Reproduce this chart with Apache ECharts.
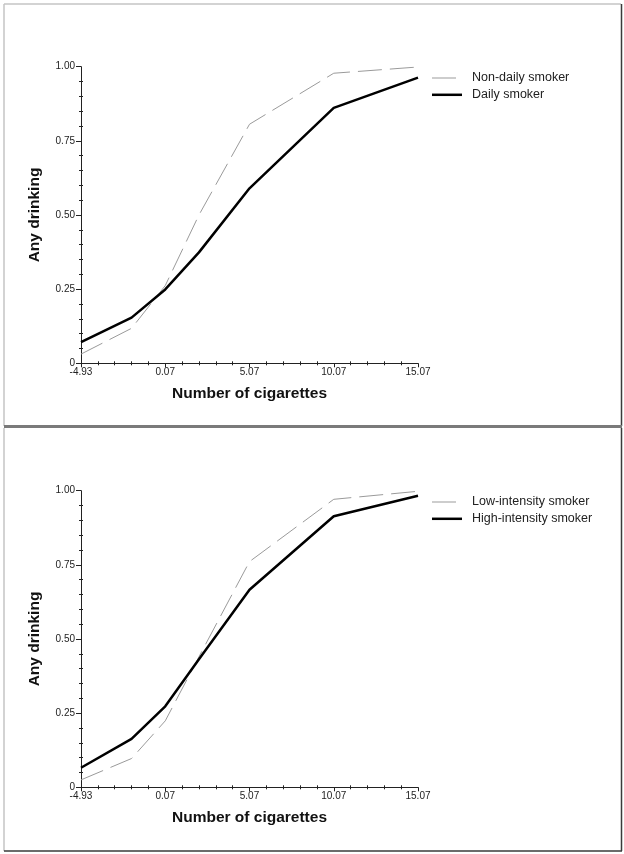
<!DOCTYPE html>
<html>
<head>
<meta charset="utf-8">
<script src="https://cdn.jsdelivr.net/npm/echarts@6/dist/echarts.min.js"></script>
<style>
html,body{margin:0;padding:0;background:#fff;}
#c{width:624px;height:854px;}
</style>
</head>
<body>
<div id="c"></div>
<script>
// Centered cigarette counts (x), shared by both panels
const xValues = [-4.93, -1.93, 0.07, 2.07, 5.07, 10.07, 15.07];
const xCenter = 4.93;
const xTickLabels = ['-4.93', '0.07', '5.07', '10.07', '15.07'];
const yTickLabels = ['0', '0.25', '0.50', '0.75', '1.00'];

// Top panel
const nonDaily = [0.031, 0.118, 0.262, 0.500, 0.806, 0.978, 0.999];
const daily    = [0.071, 0.154, 0.249, 0.374, 0.590, 0.861, 0.963];
// Bottom panel
const lowIntensity  = [0.025, 0.097, 0.224, 0.440, 0.761, 0.971, 0.998];
const highIntensity = [0.066, 0.163, 0.273, 0.432, 0.666, 0.914, 0.983];

const topNames = ['Non-daily smoker', 'Daily smoker'];
const bottomNames = ['Low-intensity smoker', 'High-intensity smoker'];

const FONT = '"Liberation Sans", Arial, Helvetica, sans-serif';

function pairs(ys) { return xValues.map((x, i) => [x + xCenter, ys[i]]); }

const grids = [
  {left: 81, top: 66.7, width: 337, height: 296.6},
  {left: 81, top: 490.7, width: 337, height: 296.6}
];

const xAxes = [], yAxes = [];
grids.forEach((g, i) => {
  xAxes.push({
    type: 'value', gridIndex: i, min: 0, max: 20, interval: 5,
    name: 'Number of cigarettes', nameLocation: 'middle', nameGap: 22,
    nameTextStyle: {fontFamily: FONT, fontWeight: 'bold', fontSize: 15.5, color: '#111'},
    axisLine: {show: true, onZero: false, lineStyle: {color: '#222', width: 1}},
    axisTick: {show: true, length: 4, lineStyle: {color: '#222'}},
    minorTick: {show: true, splitNumber: 5, length: 2, lineStyle: {color: '#222'}},
    splitLine: {show: false},
    axisLabel: {
      fontFamily: FONT, fontSize: 10, color: '#222', margin: 4,
      formatter: v => xTickLabels[Math.round(v / 5)]
    }
  });
  xAxes.push({
    type: 'value', gridIndex: i, min: 0, max: 20, interval: 5, position: 'bottom',
    axisLine: {show: false}, axisTick: {show: false, inside: true},
    minorTick: {show: true, splitNumber: 5, length: 2, lineStyle: {color: '#222'}},
    axisLabel: {show: false}, splitLine: {show: false}
  });
  yAxes.push({
    type: 'value', gridIndex: i, min: 0, max: 1, interval: 0.25,
    name: 'Any drinking', nameLocation: 'middle', nameGap: 38,
    nameTextStyle: {fontFamily: FONT, fontWeight: 'bold', fontSize: 15.5, color: '#111'},
    axisLine: {show: true, onZero: false, lineStyle: {color: '#222', width: 1}},
    axisTick: {show: true, length: 5, lineStyle: {color: '#222'}},
    minorTick: {show: true, splitNumber: 5, length: 2, lineStyle: {color: '#222'}},
    splitLine: {show: false},
    axisLabel: {
      fontFamily: FONT, fontSize: 10, color: '#222', margin: 6,
      formatter: v => yTickLabels[Math.round(v / 0.25)]
    }
  });
  yAxes.push({
    type: 'value', gridIndex: i, min: 0, max: 1, interval: 0.25, position: 'left',
    axisLine: {show: false}, axisTick: {show: false, inside: true},
    minorTick: {show: true, splitNumber: 5, length: 2, lineStyle: {color: '#222'}},
    axisLabel: {show: false}, splitLine: {show: false}
  });
});

function dashedSeries(name, ys, gi) {
  return {
    name, type: 'line', xAxisIndex: gi * 2, yAxisIndex: gi * 2, data: pairs(ys),
    symbol: 'none', silent: true, animation: false,
    lineStyle: {color: '#9a9a9a', width: 1, type: [24, 8]}, itemStyle: {color: '#9a9a9a'}
  };
}
function solidSeries(name, ys, gi) {
  return {
    name, type: 'line', xAxisIndex: gi * 2, yAxisIndex: gi * 2, data: pairs(ys),
    symbol: 'none', silent: true, animation: false,
    lineStyle: {color: '#000', width: 2.5}, itemStyle: {color: '#000'}
  };
}

// legend icons: thin bars inside a 35x12 box (leading moveTo points fix the box)
const dashIcon = 'path://M0,0 M35,12 M0,5.5 H24 V6.5 H0 Z';
const solidIcon = 'path://M0,0 M35,12 M0,4.75 H30 V7.25 H0 Z';

function makeLegend(top, names) {
  return {
    orient: 'vertical', left: 432, top: top, padding: 0,
    itemWidth: 35, itemHeight: 12, itemGap: 3.8,
    textStyle: {fontFamily: FONT, fontSize: 12.5, color: '#222'},
    itemStyle: {borderWidth: 0},
    selectedMode: false,
    data: [{name: names[0], icon: dashIcon}, {name: names[1], icon: solidIcon}]
  };
}

const lineCol = '#c4c4c4', darkCol = '#3a3a3a';
const frame = [
  {type: 'line', shape: {x1: 4, y1: 4, x2: 621, y2: 4}, style: {stroke: lineCol, lineWidth: 1.5}},
  {type: 'line', shape: {x1: 4, y1: 4, x2: 4, y2: 426}, style: {stroke: lineCol, lineWidth: 1.5}},
  {type: 'line', shape: {x1: 621.5, y1: 4, x2: 621.5, y2: 426}, style: {stroke: darkCol, lineWidth: 1.5}},
  {type: 'line', shape: {x1: 4, y1: 426.5, x2: 622, y2: 426.5}, style: {stroke: '#7a7a7a', lineWidth: 3}},
  {type: 'line', shape: {x1: 4, y1: 428, x2: 4, y2: 851}, style: {stroke: lineCol, lineWidth: 1.5}},
  {type: 'line', shape: {x1: 621.5, y1: 428, x2: 621.5, y2: 851}, style: {stroke: darkCol, lineWidth: 1.5}},
  {type: 'line', shape: {x1: 4, y1: 851, x2: 622, y2: 851}, style: {stroke: darkCol, lineWidth: 1.5}}
];

const chart = echarts.init(document.getElementById('c'), null, {renderer: 'canvas'});
chart.setOption({
  backgroundColor: '#fff',
  animation: false,
  grid: grids,
  xAxis: xAxes,
  yAxis: yAxes,
  legend: [makeLegend(71.5, topNames), makeLegend(495.5, bottomNames)],
  series: [
    dashedSeries(topNames[0], nonDaily, 0),
    solidSeries(topNames[1], daily, 0),
    dashedSeries(bottomNames[0], lowIntensity, 1),
    solidSeries(bottomNames[1], highIntensity, 1)
  ],
  graphic: frame
});
</script>
</body>
</html>
